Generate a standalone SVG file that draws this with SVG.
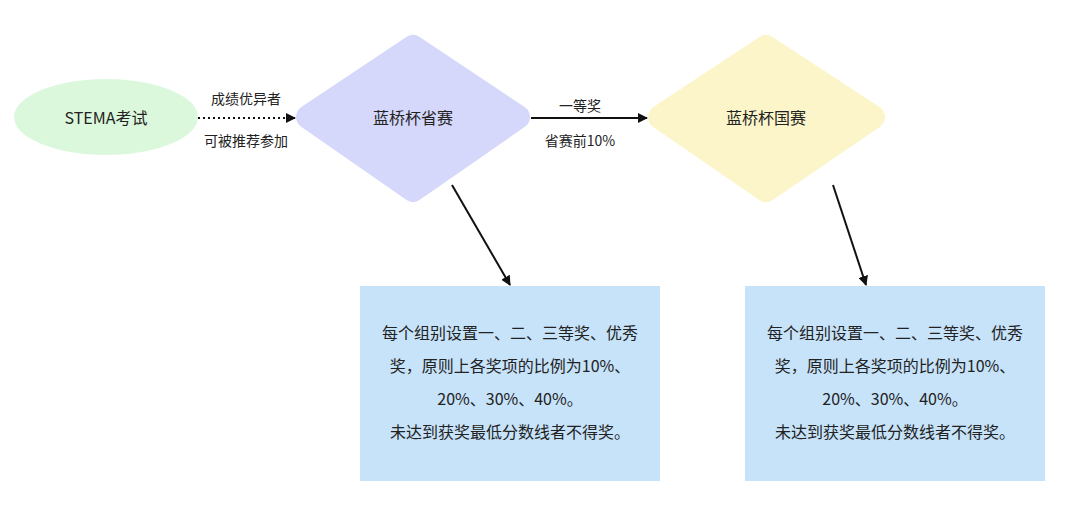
<svg xmlns="http://www.w3.org/2000/svg" width="1080" height="510" viewBox="0 0 1080 510">
<defs>
<style>
text{font-family:"Noto Sans CJK SC","Noto Sans",sans-serif;fill:#222;}
.t{font-size:16px;text-anchor:middle;dominant-baseline:central}
.l{font-size:14px;text-anchor:middle;dominant-baseline:central}
.b{font-size:16px;text-anchor:middle}
.c{stroke:#111;stroke-width:2;fill:none}
</style>
<marker id="a" viewBox="0 0 10 10" refX="9" refY="5" markerWidth="5" markerHeight="5" orient="auto"><path d="M0,0L10,5L0,10z" fill="#111"/></marker>
</defs>
<rect width="1080" height="510" fill="#fff"/>
<g id="stema"><ellipse cx="106" cy="117" rx="92" ry="38" fill="#dcf8dc"/><text class="t" x="106" y="117">STEMA考试</text></g>
<g id="prov"><polygon points="413,47 518,117 413,190 308,117" fill="#d6d8fb" stroke="#d6d8fb" stroke-width="24" stroke-linejoin="round"/><text class="t" x="413" y="117">蓝桥杯省赛</text></g>
<g id="nat"><polygon points="766,47 873,117 766,190 660,117" fill="#fbf5c9" stroke="#fbf5c9" stroke-width="24" stroke-linejoin="round"/><text class="t" x="766" y="117">蓝桥杯国赛</text></g>
<g id="box1"><rect x="360" y="286" width="300" height="195" fill="#c7e3fa"/>
<text class="b" x="510" y="339">每个组别设置一、二、三等奖、优秀</text>
<text class="b" x="510" y="372">奖，原则上各奖项的比例为10%、</text>
<text class="b" x="510" y="405">20%、30%、40%。</text>
<text class="b" x="510" y="438">未达到获奖最低分数线者不得奖。</text></g>
<g id="box2"><rect x="745" y="286" width="300" height="195" fill="#c7e3fa"/>
<text class="b" x="895" y="339">每个组别设置一、二、三等奖、优秀</text>
<text class="b" x="895" y="372">奖，原则上各奖项的比例为10%、</text>
<text class="b" x="895" y="405">20%、30%、40%。</text>
<text class="b" x="895" y="438">未达到获奖最低分数线者不得奖。</text></g>
<g id="connectors">
<line class="c" x1="198" y1="118" x2="295" y2="118" stroke-dasharray="2,3" marker-end="url(#a)"/>
<line class="c" x1="531" y1="118" x2="647" y2="118" marker-end="url(#a)"/>
<line class="c" x1="452" y1="185" x2="510" y2="285" marker-end="url(#a)"/>
<line class="c" x1="833" y1="185" x2="866" y2="285" marker-end="url(#a)"/>
<text class="l" x="246" y="98">成绩优异者</text>
<text class="l" x="246" y="140">可被推荐参加</text>
<text class="l" x="580" y="105">一等奖</text>
<text class="l" x="580" y="140">省赛前10%</text>
</g>
</svg>
